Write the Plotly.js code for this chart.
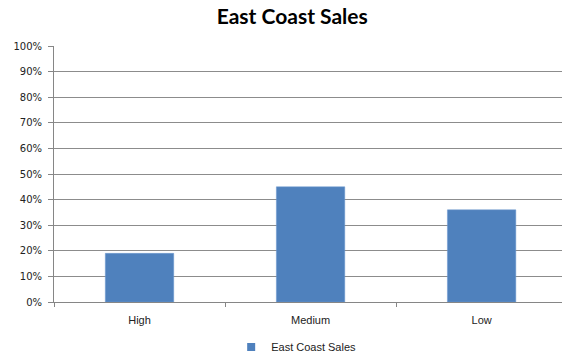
<!DOCTYPE html>
<html>
<head>
<meta charset="utf-8">
<script src="https://cdn.plot.ly/plotly-3.0.1.min.js"></script>
<style>html,body{margin:0;padding:0;background:#fff;}#chart{width:562px;height:354px;}</style>
</head>
<body>
<div id="chart"></div>
<script>
var categories = ["High", "Medium", "Low"];
var salesValues = [0.19, 0.45, 0.36];
var seriesName = "East Coast Sales";
var yTickValues = [0, 0.1, 0.2, 0.3, 0.4, 0.5, 0.6, 0.7, 0.8, 0.9, 1.0];
var yTickLabels = ["0%", "10%", "20%", "30%", "40%", "50%", "60%", "70%", "80%", "90%", "100%"];

var barColor = "#4F81BD";

var trace = {
  type: "bar",
  x: categories,
  y: salesValues,
  name: seriesName,
  marker: {color: barColor, line: {color: "#6F9AD0", width: 0.5}},
  showlegend: false,
  hoverinfo: "none"
};

// legend entry (small square swatch, as in the reference)
var legendEntry = {
  type: "scatter",
  mode: "markers",
  x: [null],
  y: [null],
  name: seriesName,
  marker: {symbol: "square", size: 8, color: barColor},
  showlegend: true,
  hoverinfo: "none"
};

var layout = {
  width: 562,
  height: 354,
  margin: {l: 54, r: 0, t: 46, b: 52, autoexpand: false},
  paper_bgcolor: "#ffffff",
  plot_bgcolor: "#ffffff",
  font: {family: "'Liberation Sans', Arial, sans-serif", size: 11, color: "#222"},
  title: {
    text: "<b>East Coast Sales</b>",
    font: {family: "Lato, 'Liberation Sans', sans-serif", size: 21, color: "#000"},
    x: 0.52, xanchor: "center", y: 0.953, yanchor: "middle"
  },
  bargap: 0.6,
  xaxis: {
    range: [-0.5, 2.47],
    showgrid: false,
    showline: true, linecolor: "#868686", linewidth: 1,
    ticks: "outside", tickson: "boundaries", ticklen: 4, tickcolor: "#868686",
    ticklabelstandoff: 8,
    tickfont: {size: 11, color: "#222"},
    fixedrange: true
  },
  yaxis: {
    range: [0, 1.0],
    tickvals: yTickValues,
    ticktext: yTickLabels,
    showgrid: true, gridcolor: "#8c8c8c", gridwidth: 1,
    showline: true, linecolor: "#868686", linewidth: 1,
    ticks: "outside", ticklen: 5, tickcolor: "#868686",
    ticklabelstandoff: 4,
    tickfont: {family: "'DejaVu Sans', Verdana, sans-serif", size: 10, color: "#222"},
    zeroline: false,
    fixedrange: true
  },
  showlegend: true,
  legend: {
    orientation: "h",
    xref: "container", yref: "container",
    x: 0.527, xanchor: "center",
    y: 0.02, yanchor: "middle",
    font: {size: 11, color: "#222"},
    itemwidth: 30
  }
};

Plotly.newPlot("chart", [trace, legendEntry], layout, {displayModeBar: false, staticPlot: true});
</script>
</body>
</html>
